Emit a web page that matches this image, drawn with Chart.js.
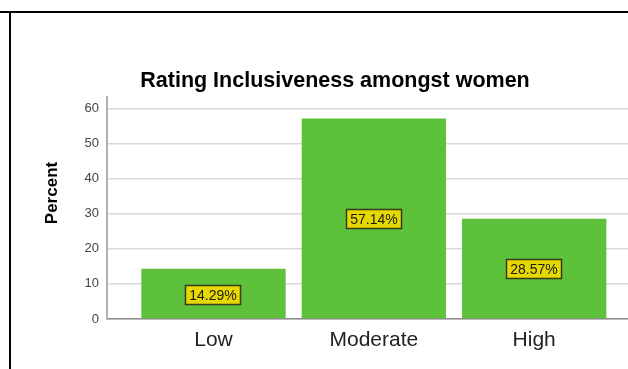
<!DOCTYPE html>
<html>
<head>
<meta charset="utf-8">
<script src="https://cdn.jsdelivr.net/npm/chart.js@4/dist/chart.umd.min.js"></script>
<style>
  html, body { margin: 0; padding: 0; background: #fff; }
  #wrap { position: relative; width: 628px; height: 369px; overflow: hidden; }
  #chart { position: absolute; left: 0; top: 0; }
  .rule-top { position: absolute; left: 0; top: 11px; width: 628px; height: 2px; background: #000; }
  .rule-left { position: absolute; left: 9px; top: 11px; width: 2px; height: 358px; background: #000; }
</style>
</head>
<body>
<div id="wrap">
  <canvas id="chart" width="628" height="369"></canvas>
  <div class="rule-top"></div>
  <div class="rule-left"></div>
</div>
<script>
"use strict";

var categories = ['Low', 'Moderate', 'High'];
var percents = [14.29, 57.14, 28.57];
var yTicks = [0, 10, 20, 30, 40, 50, 60];
var chartTitle = 'Rating Inclusiveness amongst women';
var yTitle = 'Percent';

var FONT = "'Liberation Sans', Arial, sans-serif";

// rotated y-axis caption, placed a little above the axis middle
var axisCaption = {
    id: 'axisCaption',
    afterDraw: function(chart) {
        var ctx = chart.ctx;
        ctx.save();
        ctx.translate(52, 193);
        ctx.rotate(-Math.PI / 2);
        ctx.font = 'bold 17px ' + FONT;
        ctx.fillStyle = '#000';
        ctx.textAlign = 'center';
        ctx.textBaseline = 'middle';
        ctx.fillText(yTitle, 0, 0);
        ctx.restore();
    }
};

// yellow value boxes in the middle of each bar
var valueBoxes = {
    id: 'valueBoxes',
    afterDatasetsDraw: function(chart) {
        var ctx = chart.ctx;
        var meta = chart.getDatasetMeta(0);
        ctx.save();
        ctx.font = '14px ' + FONT;
        ctx.textAlign = 'center';
        ctx.textBaseline = 'middle';
        meta.data.forEach(function(bar, i) {
            var text = percents[i].toFixed(2) + '%';
            var w = Math.round(ctx.measureText(text).width + 9);
            var h = 20;
            var cx = Math.round(bar.x);
            var cy = Math.round((bar.y + bar.base) / 2 + 1);
            var x0 = cx - Math.round(w / 2);
            var y0 = cy - h / 2;
            ctx.fillStyle = '#e6d800';
            ctx.fillRect(x0, y0, w, h);
            ctx.strokeStyle = '#3b3b1c';
            ctx.lineWidth = 1.5;
            ctx.strokeRect(x0 + 0.5, y0 + 0.5, w - 1, h - 1);
            ctx.fillStyle = '#1a1a1a';
            ctx.fillText(text, cx, cy + 1);
        });
        ctx.restore();
    }
};

var ctx = document.getElementById('chart').getContext('2d');

new Chart(ctx, {
    type: 'bar',
    data: {
        datasets: [{
            label: yTitle,
            data: categories.map(function(c, i) { return { x: i + 1, y: percents[i] }; }),
            backgroundColor: '#5dc13b',
            borderWidth: 0,
            barPercentage: 0.9,
            categoryPercentage: 1
        }]
    },
    options: {
        responsive: false,
        animation: false,
        devicePixelRatio: 1,
        layout: { padding: { left: 42, right: 0, top: 0, bottom: 0 } },
        plugins: {
            legend: { display: false },
            tooltip: { enabled: false },
            title: {
                display: true,
                text: chartTitle,
                color: '#000',
                font: { family: FONT, size: 21.5, weight: 'bold' },
                padding: { top: 68.5, bottom: 2.5 }
            }
        },
        scales: {
            x: {
                type: 'linear',
                offset: false,
                min: 0.336,
                max: 3.585,
                grid: { display: false, drawTicks: false },
                border: { color: '#8c8c8c', width: 1.5 },
                ticks: {
                    autoSkip: false,
                    maxRotation: 0,
                    padding: 9,
                    color: '#222',
                    font: { family: FONT, size: 21 },
                    callback: function(v) { return categories[v - 1]; }
                },
                afterBuildTicks: function(scale) {
                    scale.ticks = categories.map(function(c, i) { return { value: i + 1 }; });
                },
                afterFit: function(scale) { scale.height = 50; }
            },
            y: {
                min: 0,
                max: 63.3,
                grid: { color: '#d9d9d9', lineWidth: 1.5, drawTicks: false },
                border: { color: '#b0b0b0', width: 2 },
                ticks: {
                    padding: 8,
                    color: '#444',
                    font: { family: FONT, size: 13 }
                },
                afterBuildTicks: function(scale) {
                    scale.ticks = yTicks.map(function(v) { return { value: v }; });
                },
                afterFit: function(scale) { scale.width = 65; }
            }
        }
    },
    plugins: [axisCaption, valueBoxes]
});
</script>
</body>
</html>
